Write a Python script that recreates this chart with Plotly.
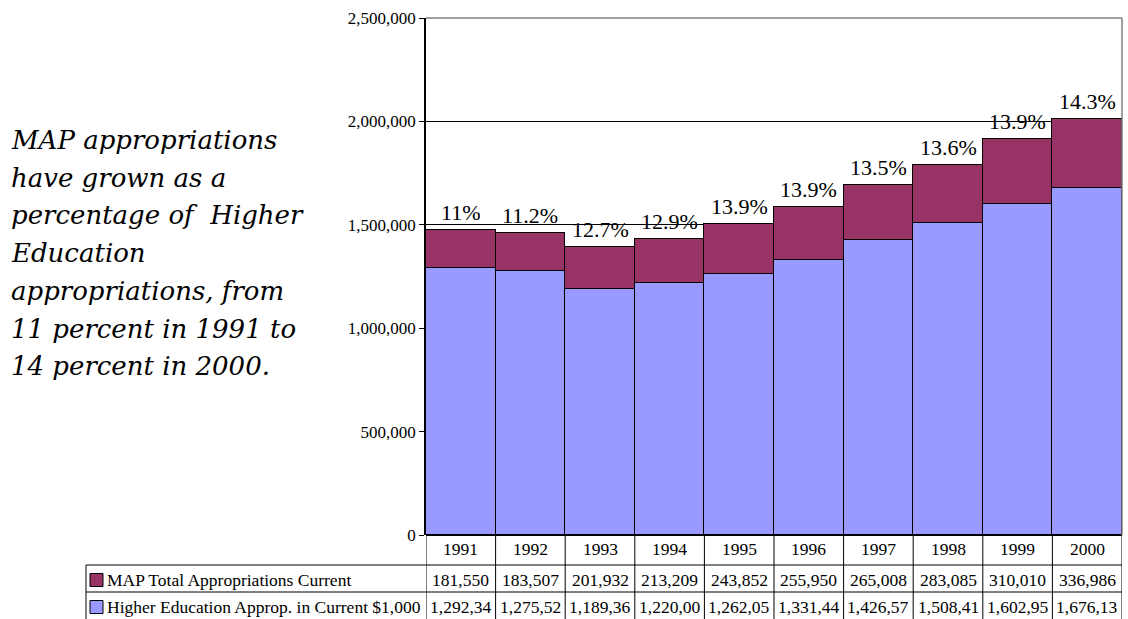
import plotly.graph_objects as go

years = ["1991", "1992", "1993", "1994", "1995", "1996", "1997", "1998", "1999", "2000"]
map_values = [181550, 183507, 201932, 213209, 243852, 255950, 265008, 283085, 310010, 336986]
he_values = [1292340, 1275520, 1189360, 1220000, 1262050, 1331440, 1426570, 1508410, 1602950, 1676130]
pct_labels = ["11%", "11.2%", "12.7%", "12.9%", "13.9%", "13.9%", "13.5%", "13.6%", "13.9%", "14.3%"]
map_name = "MAP Total Appropriations Current"
he_name = "Higher Education Approp. in Current $1,000"
note_lines = ["MAP appropriations", "have grown as a", "percentage of  Higher", "Education",
              "appropriations, from", "11 percent in 1991 to", "14 percent in 2000."]

W, H = 1128, 619
def px(x):
    return x / W
def py(y):
    return 1 - y / H

MAP_COLOR = "#993366"
HE_COLOR = "#9999FF"
SERIF = "Liberation Serif"
TS = 17.5

fig = go.Figure()
fig.add_trace(go.Bar(x=years, y=he_values, name=he_name, marker=dict(color=HE_COLOR, line=dict(color="black", width=1.4))))
fig.add_trace(go.Bar(x=years, y=map_values, name=map_name, marker=dict(color=MAP_COLOR, line=dict(color="black", width=1.4))))

annotations = []
shapes = []

# percentage labels above stacks
for i, (m, h, lab) in enumerate(zip(map_values, he_values, pct_labels)):
    annotations.append(dict(x=i, y=m + h, xref="x", yref="y", text=lab, showarrow=False,
                            yanchor="bottom", yshift=3, font=dict(family=SERIF, size=22, color="black")))

# table rows
y_year, y_map, y_he = 549, 580, 607
n = len(years)
for i, (yr, m, h) in enumerate(zip(years, map_values, he_values)):
    annotations.append(dict(x=i, y=py(y_year), xref="x", yref="paper", text=yr, showarrow=False,
                            yanchor="middle", font=dict(family=SERIF, size=TS, color="black")))
    annotations.append(dict(x=i, y=py(y_map), xref="x", yref="paper", text=f"{m:,}", showarrow=False,
                            yanchor="middle", font=dict(family=SERIF, size=TS, color="black")))
    annotations.append(dict(x=i, y=py(y_he), xref="x", yref="paper", text=f"{h:,}"[:8], showarrow=False,
                            yanchor="middle", font=dict(family=SERIF, size=TS, color="black")))

# row headers with legend keys
for name, color, yc in [(map_name, MAP_COLOR, y_map), (he_name, HE_COLOR, y_he)]:
    annotations.append(dict(x=px(105), y=py(yc), xref="paper", yref="paper", text=name, showarrow=False,
                            xanchor="left", yanchor="middle", font=dict(family=SERIF, size=TS, color="black")))
    shapes.append(dict(type="rect", xref="paper", yref="paper", x0=px(90), x1=px(103),
                       y0=py(yc + 6.5), y1=py(yc - 6.5), fillcolor=color, line=dict(color="black", width=1)))

# table grid
for i in range(n + 1):
    shapes.append(dict(type="line", xref="x", yref="paper", x0=i - 0.5, x1=i - 0.5, y0=py(535), y1=py(619),
                       line=dict(color="black", width=1)))
for yl in [565, 592]:
    shapes.append(dict(type="line", xref="paper", yref="paper", x0=px(86), x1=px(1122), y0=py(yl), y1=py(yl),
                       line=dict(color="black", width=1)))
shapes.append(dict(type="line", xref="paper", yref="paper", x0=px(86), x1=px(86), y0=py(565), y1=py(619),
                   line=dict(color="black", width=1)))

# plot area border (gray top / right)
shapes.append(dict(type="line", xref="paper", yref="paper", x0=px(426), x1=px(1122), y0=py(18), y1=py(18),
                   line=dict(color="#808080", width=1.5)))
shapes.append(dict(type="line", xref="paper", yref="paper", x0=px(1122), x1=px(1122), y0=py(18), y1=py(535),
                   line=dict(color="#808080", width=1.5)))

# left note, one line per annotation
for k, line in enumerate(note_lines):
    annotations.append(dict(x=px(9), y=py(140 + 37.7 * k), xref="paper", yref="paper", text=line, showarrow=False,
                            xanchor="left", yanchor="middle", align="left",
                            font=dict(family="DejaVu Serif", size=26, color="black", style="italic")))

fig.update_layout(
    width=W, height=H,
    margin=dict(l=0, r=0, t=0, b=0, autoexpand=False),
    paper_bgcolor="white", plot_bgcolor="white",
    barmode="stack", bargap=0,
    showlegend=False,
    xaxis=dict(type="category", domain=[px(426), px(1122)], showticklabels=False, ticks="", showgrid=False,
               showline=False, zeroline=False, range=[-0.5, n - 0.5]),
    yaxis=dict(domain=[py(535), py(18)], range=[0, 2500000], tickvals=[0, 500000, 1000000, 1500000, 2000000, 2500000],
               tickformat=",", ticks="outside", ticklen=5, tickcolor="black", showline=True, linecolor="black",
               linewidth=1.5, showgrid=True, gridcolor="black", gridwidth=1, zeroline=True, zerolinecolor="black",
               zerolinewidth=1.5, tickfont=dict(family=SERIF, size=17, color="black")),
    annotations=annotations,
    shapes=shapes,
)

fig.write_html("out.html")
